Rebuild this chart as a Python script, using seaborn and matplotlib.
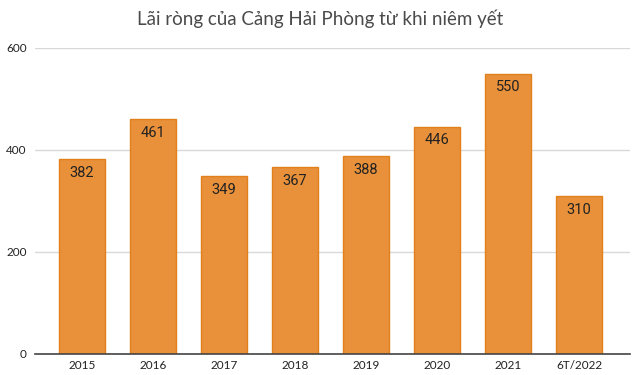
import matplotlib
matplotlib.use("Agg")
import matplotlib.pyplot as plt
import seaborn as sns
import pandas as pd

categories = ["2015", "2016", "2017", "2018", "2019", "2020", "2021", "6T/2022"]
values = [382, 461, 349, 367, 388, 446, 550, 310]
yticks = [0, 200, 400, 600]
title = "Lãi ròng của Cảng Hải Phòng từ khi niêm yết"

sns.set_theme(style="white")
plt.rcParams['font.family'] = ['Lato', 'DejaVu Sans']

df = pd.DataFrame({"cat": categories, "val": values})

fig = plt.figure(figsize=(6.4, 3.75), dpi=100)
ax = fig.add_axes([0.0547, 0.056, 0.930, 0.816])
sns.barplot(data=df, x="cat", y="val", color="#E8913A", saturation=1, width=0.65,
            edgecolor="#E2801C", linewidth=1.0, ax=ax)

ax.set_xlim(-0.66, 7.72)
ax.set_ylim(0, 600)
ax.set_yticks(yticks)
ax.set_yticklabels([str(t) for t in yticks], fontsize=8.5, color="#222222")
ax.grid(axis="y", color="#D9D9D9", linewidth=1)
ax.set_axisbelow(True)
for s in ["top", "right", "left"]:
    ax.spines[s].set_visible(False)
ax.spines["bottom"].set_color("#444444")
ax.spines["bottom"].set_linewidth(1.2)
ax.tick_params(axis="x", length=0, pad=4)
ax.tick_params(axis="y", length=0, pad=6)
for lab in ax.get_xticklabels():
    lab.set_fontsize(8.5)
    lab.set_color("#222222")
ax.set_xlabel("")
ax.set_ylabel("")

for c in ax.containers:
    ax.bar_label(c, labels=[str(v) for v in values], padding=-15, fontsize=10.5,
                 color="#222222", family=["Roboto", "DejaVu Sans"])

fig.suptitle(title, y=0.975, fontsize=13.5, color="#4A4A4A")
fig.savefig("out.png", dpi=100)
